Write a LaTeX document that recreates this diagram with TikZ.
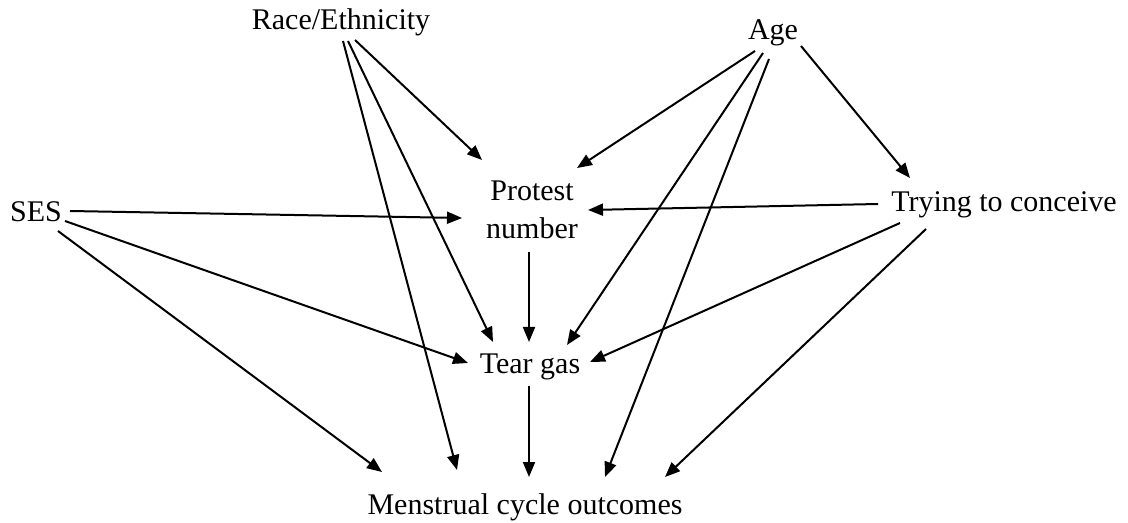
\documentclass[tikz,border=0pt]{standalone}
\usepackage{fontspec}
\setmainfont{Liberation Serif}
\usetikzlibrary{calc,arrows.meta}
\begin{document}
\begin{tikzpicture}[x=0.5pt,y=-0.5pt,
  lbl/.style={inner sep=0pt,font=\fontsize{15}{19}\selectfont,align=center},
  arr/.style={line width=1pt,-{Triangle[length=7.5pt,width=6pt]}}]
\useasboundingbox (0,0) rectangle (1128,523);
\node[lbl,anchor=base] (race) at (341,30) {Race/Ethnicity};
\node[lbl,anchor=base] (age) at (773,40) {Age};
\node[lbl,anchor=base] (ses) at (36,222) {SES};
\node[lbl] (prot) at (532,210) {Protest\\number};
\node[lbl,anchor=base] (try) at (1004,212) {Trying to conceive};
\node[lbl,anchor=base] (tear) at (530,373) {Tear gas};
\node[lbl,anchor=base] (mens) at (525,514) {Menstrual cycle outcomes};
% Race/Ethnicity
\draw[arr] ($(race.base)+(14,10)$) -- ($(prot.center)+(-50,-50)$);
\draw[arr] ($(race.base)+(7,11)$) -- ($(tear.base)+(-37,-31)$);
\draw[arr] ($(race.base)+(2,11)$) -- ($(mens.base)+(-68,-44)$);
% Age
\draw[arr] ($(age.base)+(-18,11)$) -- ($(prot.center)+(45,-42)$);
\draw[arr] ($(age.base)+(-10,13)$) -- ($(tear.base)+(37,-28)$);
\draw[arr] ($(age.base)+(-4,19)$) -- ($(mens.base)+(80,-37)$);
\draw[arr] ($(age.base)+(28,6)$) -- ($(try.base)+(-94,-34)$);
% SES
\draw[arr] ($(ses.base)+(34,-11)$) -- ($(prot.center)+(-70,8)$);
\draw[arr] ($(ses.base)+(29,-1)$) -- ($(tear.base)+(-62,-10)$);
\draw[arr] ($(ses.base)+(22,9)$) -- ($(mens.base)+(-143,-42)$);
% Protest number, Tear gas
\draw[arr] ($(prot.center)+(-3,42)$) -- ($(tear.base)+(-1,-31)$);
\draw[arr] ($(tear.base)+(-1,13)$) -- ($(mens.base)+(4,-37)$);
% Trying to conceive
\draw[arr] ($(try.base)+(-126,-8)$) -- ($(prot.center)+(56,0)$);
\draw[arr] ($(try.base)+(-104,11)$) -- ($(tear.base)+(60,-11)$);
\draw[arr] ($(try.base)+(-78,17)$) -- ($(mens.base)+(140,-37)$);
\end{tikzpicture}
\end{document}
